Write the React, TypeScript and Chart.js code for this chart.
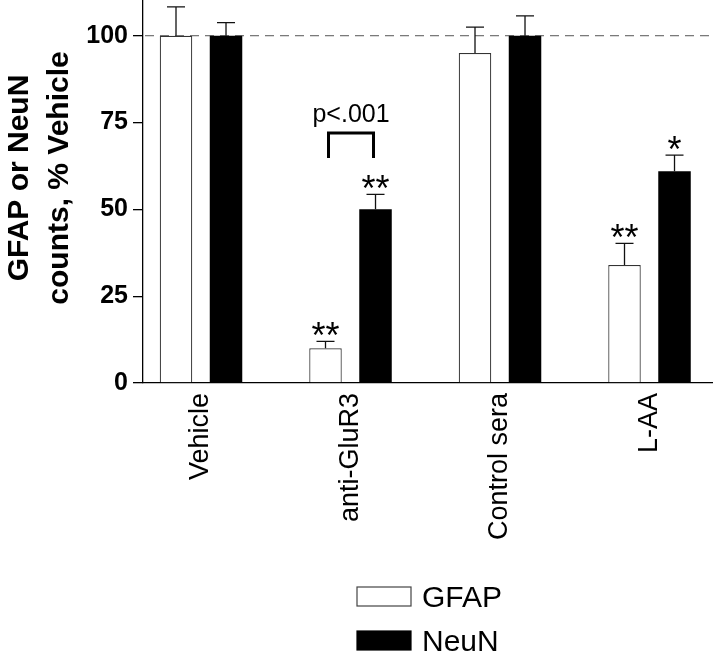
import React, { useEffect, useRef } from 'react';
import { Chart, registerables } from 'chart.js';

Chart.register(...registerables);

const categories = ['Vehicle', 'anti-GluR3', 'Control sera', 'L-AA'];
const seriesNames = ['GFAP', 'NeuN'];
const gfapValues = [100, 10, 95, 34];
const gfapErrors = [8.3, 2, 7.5, 6.2];
const neunValues = [100, 50, 100, 61];
const neunErrors = [3.8, 4.3, 5.7, 4.6];
const gfapStars = ['', '**', '', '**'];
const neunStars = ['', '**', '', '*'];
const yTicks = [0, 25, 50, 75, 100];
const yTitleLines = ['GFAP or NeuN', 'counts, % Vehicle'];
const pLabel = 'p<.001';
const referenceValue = 100;

const FONT = '"Liberation Sans", Arial, Helvetica, sans-serif';

const annotationPlugin = {
  id: 'annotations',
  beforeDatasetsDraw(chart: any) {
    const { ctx, chartArea, scales } = chart;
    const py = scales.y.getPixelForValue(referenceValue);
    ctx.save();
    ctx.setLineDash([9, 6]);
    ctx.strokeStyle = '#555';
    ctx.lineWidth = 1;
    ctx.beginPath();
    ctx.moveTo(chartArea.left + 2, py);
    ctx.lineTo(chartArea.right, py);
    ctx.stroke();
    ctx.restore();
  },
  afterDatasetsDraw(chart: any) {
    const { ctx, scales } = chart;
    const y = scales.y;
    const values = [gfapValues, neunValues];
    const errors = [gfapErrors, neunErrors];
    const stars = [gfapStars, neunStars];
    ctx.save();
    // error bars and significance stars
    for (let d = 0; d < 2; d++) {
      const meta = chart.getDatasetMeta(d);
      meta.data.forEach((bar: any, i: number) => {
        const x = bar.x;
        const base = y.getPixelForValue(values[d][i]);
        const top = y.getPixelForValue(values[d][i] + errors[d][i]);
        ctx.strokeStyle = '#111';
        ctx.lineWidth = 1.3;
        ctx.beginPath();
        ctx.moveTo(x, base);
        ctx.lineTo(x, top);
        ctx.moveTo(x - 9, top);
        ctx.lineTo(x + 9, top);
        ctx.stroke();
        if (stars[d][i]) {
          ctx.fillStyle = '#000';
          ctx.font = `36px ${FONT}`;
          ctx.textAlign = 'center';
          ctx.textBaseline = 'alphabetic';
          ctx.fillText(stars[d][i], x, top + 6.5);
        }
      });
    }
    // p-value bracket between anti-GluR3 bars
    const b0 = chart.getDatasetMeta(0).data[1];
    const b1 = chart.getDatasetMeta(1).data[1];
    if (b0 && b1) {
      const x1 = b0.x + 3;
      const x2 = b1.x - 2;
      const yTop = y.getPixelForValue(72);
      const yBot = y.getPixelForValue(64.8);
      ctx.strokeStyle = '#000';
      ctx.lineWidth = 3;
      ctx.beginPath();
      ctx.moveTo(x1, yBot);
      ctx.lineTo(x1, yTop);
      ctx.lineTo(x2, yTop);
      ctx.lineTo(x2, yBot);
      ctx.stroke();
      ctx.fillStyle = '#000';
      ctx.font = `25px ${FONT}`;
      ctx.textAlign = 'center';
      ctx.textBaseline = 'alphabetic';
      ctx.fillText(pLabel, (x1 + x2) / 2, y.getPixelForValue(75.2));
    }
    ctx.restore();
  },
  afterDraw(chart: any) {
    const { ctx, chartArea } = chart;
    ctx.save();
    // y axis title (two lines, rotated)
    ctx.fillStyle = '#000';
    ctx.font = `bold 30px ${FONT}`;
    ctx.textAlign = 'center';
    ctx.textBaseline = 'alphabetic';
    const cy = (chartArea.top + chartArea.bottom) / 2 - 14;
    const baselines = [28, 68];
    yTitleLines.forEach((line, i) => {
      ctx.save();
      ctx.translate(baselines[i], cy);
      ctx.rotate(-Math.PI / 2);
      ctx.fillText(line, 0, 0);
      ctx.restore();
    });
    // legend (stacked vertically)
    const cx = (chartArea.left + chartArea.right) / 2;
    const boxX = cx - 70.5;
    const rows = [596.5, 640.5];
    chart.data.datasets.forEach((ds: any, i: number) => {
      const rowY = rows[i];
      ctx.fillStyle = ds.backgroundColor;
      ctx.fillRect(boxX, rowY - 9.5, 54, 19);
      ctx.strokeStyle = i === 0 ? '#444' : '#000';
      ctx.lineWidth = 1.2;
      ctx.strokeRect(boxX, rowY - 9.5, 54, 19);
      ctx.fillStyle = '#000';
      ctx.font = `30px ${FONT}`;
      ctx.textAlign = 'left';
      ctx.textBaseline = 'alphabetic';
      ctx.fillText(ds.label, boxX + 65, rowY + 10.7);
    });
    ctx.restore();
  },
};

export default function App() {
  const canvasRef = useRef<HTMLCanvasElement | null>(null);

  useEffect(() => {
    const canvas = canvasRef.current;
    if (!canvas) return;
    const chart = new Chart(canvas, {
      type: 'bar',
      data: {
        datasets: [
          {
            label: seriesNames[0],
            data: gfapValues.map((v, i) => ({ x: i, y: v })),
            backgroundColor: '#ffffff',
            borderColor: '#333333',
            borderWidth: 1.2,
          },
          {
            label: seriesNames[1],
            data: neunValues.map((v, i) => ({ x: i, y: v })),
            backgroundColor: '#000000',
            borderColor: '#000000',
            borderWidth: 0,
          },
        ],
      } as any,
      options: {
        animation: false,
        responsive: false,
        maintainAspectRatio: false,
        categoryPercentage: 0.669,
        barPercentage: 0.65,
        layout: { padding: { top: 1, right: 8, left: 0, bottom: 0 } },
        plugins: {
          legend: { display: false },
          tooltip: { enabled: false },
        },
        scales: {
          x: {
            type: 'linear',
            min: -0.388,
            max: 3.418,
            offset: false,
            afterBuildTicks: (s: any) => {
              s.ticks = categories.map((_, i) => ({ value: i }));
            },
            afterFit: (s: any) => {
              s.height = 273;
              s.paddingLeft = 0;
              s.paddingRight = 0;
              s.paddingTop = 0;
              s.paddingBottom = 0;
            },
            grid: { display: false, drawTicks: false, offset: false },
            border: { display: true, color: '#000', width: 1.3 },
            ticks: {
              autoSkip: false,
              minRotation: 90,
              maxRotation: 90,
              padding: 10,
              color: '#000',
              font: { family: FONT, size: 27 },
              callback: (v: any) => categories[v] ?? '',
            },
          },
          y: {
            min: 0,
            max: 110,
            afterBuildTicks: (s: any) => {
              s.ticks = yTicks.map((v) => ({ value: v }));
            },
            afterFit: (s: any) => {
              s.width = 143;
              s.paddingTop = 0;
              s.paddingBottom = 0;
              s.paddingLeft = 0;
              s.paddingRight = 0;
            },
            grid: {
              drawOnChartArea: false,
              drawTicks: true,
              tickLength: 10,
              color: '#000',
              lineWidth: 1.3,
            },
            border: { display: true, color: '#000', width: 1.3 },
            ticks: {
              padding: 5,
              color: '#000',
              font: { family: FONT, size: 25, weight: 'bold' },
            },
          },
        },
      } as any,
      plugins: [annotationPlugin],
    });
    return () => chart.destroy();
  }, []);

  return (
    <div style={{ position: 'absolute', left: 0, top: 0, width: 720, height: 656, background: '#fff' }}>
      <canvas ref={canvasRef} width={720} height={656} style={{ display: 'block' }} />
    </div>
  );
}
